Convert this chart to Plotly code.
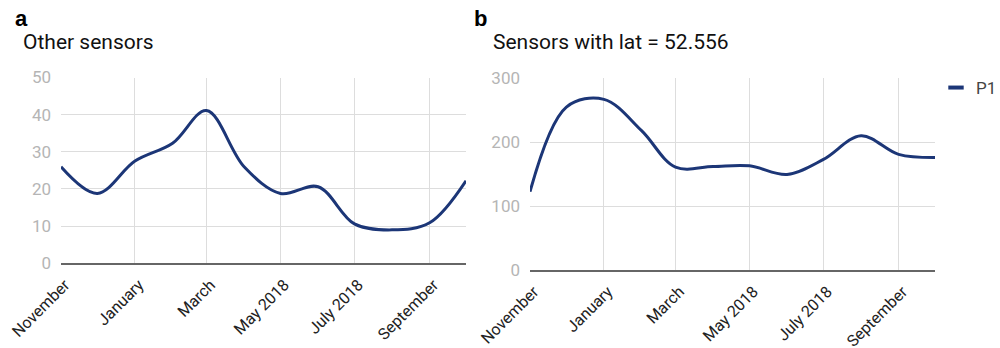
import plotly.graph_objects as go

months = ["2017-11-01", "2017-12-01", "2018-01-01", "2018-02-01", "2018-03-01", "2018-04-01",
          "2018-05-01", "2018-06-01", "2018-07-01", "2018-08-01", "2018-09-01", "2018-10-01"]
other_sensors = [26.0, 18.8, 27.5, 32.3, 41.1, 26.0, 18.8, 20.6, 10.6, 9.0, 10.9, 22.2]
lat_sensors = [122.5, 255, 267, 218, 161, 162, 163, 149.5, 173, 210, 181, 176]

tick_vals = ["2017-11-01", "2018-01-01", "2018-03-01", "2018-05-01", "2018-07-01", "2018-09-01"]
tick_text = ["November", "January", "March", "May 2018", "July 2018", "September"]
y1_ticks = [0, 10, 20, 30, 40, 50]
y2_ticks = [0, 100, 200, 300]

navy = "#1c3677"
H = 348.0

fig = go.Figure()
fig.add_trace(go.Scatter(x=months, y=other_sensors, mode="lines", xaxis="x", yaxis="y",
                         line=dict(color=navy, width=3, shape="spline", smoothing=1.0),
                         showlegend=False, name="P1"))
fig.add_trace(go.Scatter(x=months, y=lat_sensors, mode="lines", xaxis="x2", yaxis="y2",
                         line=dict(color=navy, width=3, shape="spline", smoothing=1.0),
                         showlegend=False, name="P1"))
# legend entry with short dash symbol
fig.add_trace(go.Scatter(x=[None], y=[None], mode="markers", xaxis="x2", yaxis="y2", name="P1",
                         marker=dict(symbol="line-ew", size=11, color=navy,
                                     line=dict(color=navy, width=4)),
                         showlegend=True))

xcommon = dict(type="date", range=["2017-11-01", "2018-10-01"], tickmode="array",
               tickvals=tick_vals, ticktext=tick_text, tickangle=-45,
               showgrid=True, gridcolor="#dddddd", gridwidth=1,
               showline=True, linecolor="#666666", linewidth=2,
               ticks="", tickfont=dict(family="Roboto", size=16, color="#222222"),
               ticklabelstandoff=4, ticklabelshift=4,
               zeroline=False, fixedrange=True, automargin=False)
ycommon = dict(showgrid=True, gridcolor="#dddddd", gridwidth=1, zeroline=False,
               ticks="", tickfont=dict(family="Roboto", size=17, color="#b5b5b5"),
               ticklabelstandoff=9,
               showline=False, fixedrange=True, automargin=False)

fig.update_layout(
    width=1000, height=348,
    margin=dict(l=0, r=0, t=0, b=0, autoexpand=False),
    paper_bgcolor="white", plot_bgcolor="white",
    xaxis=dict(domain=[61/1000, 466/1000], anchor="y", **xcommon),
    yaxis=dict(domain=[1 - 263.3/H, 1 - 77.5/H], anchor="x", range=[0, 50],
               tickvals=y1_ticks, **ycommon),
    xaxis2=dict(domain=[530/1000, 935/1000], anchor="y2", **xcommon),
    yaxis2=dict(domain=[1 - 270/H, 1 - 78.3/H], anchor="x2", range=[0, 300],
                tickvals=y2_ticks, **ycommon),
    legend=dict(x=0.936, y=1 - 70/H, xanchor="left", yanchor="top",
                font=dict(family="Roboto", size=17, color="#444444"),
                bgcolor="rgba(0,0,0,0)", itemwidth=30),
    showlegend=True,
    annotations=[
        dict(text="<b>a</b>", x=13/1000, y=1 - 33/H, xref="paper", yref="paper",
             xanchor="left", yanchor="bottom", showarrow=False,
             font=dict(family="Liberation Sans", size=22, color="black")),
        dict(text="Other sensors", x=21/1000, y=1 - 42/H, xref="paper", yref="paper",
             xanchor="left", yanchor="middle", showarrow=False,
             font=dict(family="Roboto", size=21, color="#111111")),
        dict(text="<b>b</b>", x=472/1000, y=1 - 33/H, xref="paper", yref="paper",
             xanchor="left", yanchor="bottom", showarrow=False,
             font=dict(family="Liberation Sans", size=22, color="black")),
        dict(text="Sensors with lat = 52.556", x=491/1000, y=1 - 42/H, xref="paper", yref="paper",
             xanchor="left", yanchor="middle", showarrow=False,
             font=dict(family="Roboto", size=21, color="#111111")),
    ],
)

fig.write_html("out.html", config={"displayModeBar": False},
               post_script="document.body.style.margin='0';document.body.style.padding='0';")
